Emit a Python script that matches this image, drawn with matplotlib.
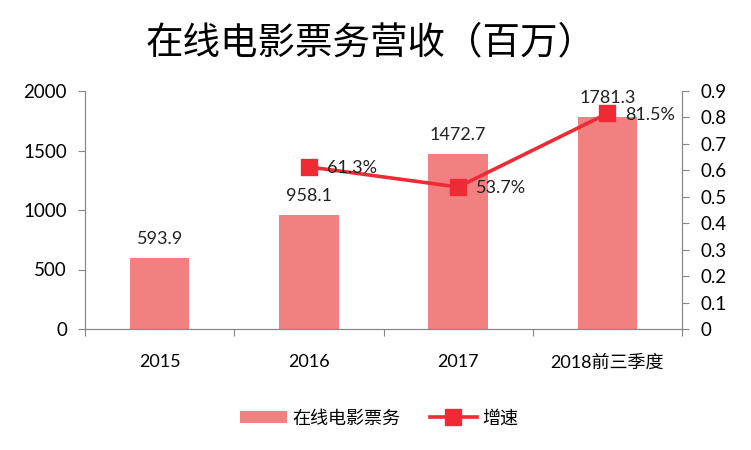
import matplotlib.pyplot as plt

plt.rcParams['font.family'] = ['Lato', 'Noto Sans CJK SC', 'DejaVu Sans']

# data
years = ["2015", "2016", "2017", "2018前三季度"]
revenue = [593.9, 958.1, 1472.7, 1781.3]
growth_years = [1, 2, 3]
growth = [0.613, 0.537, 0.815]

bar_color = '#F28080'
line_color = '#EE2A34'
axis_color = '#888888'

fig = plt.figure(figsize=(7.51, 4.5), dpi=100)
ax = fig.add_axes([85 / 751, 1 - 329 / 450, (682 - 85) / 751, (329 - 91) / 450])
ax2 = ax.twinx()

x = list(range(len(years)))
bars = ax.bar(x, revenue, width=0.4, color=bar_color, label='在线电影票务', zorder=2)
for xi, v in zip(x, revenue):
    ax.annotate(f'{v:.1f}', (xi, v), xytext=(0, 8), textcoords='offset points',
                ha='center', va='bottom', fontsize=13, color='#222222')

ax.set_xlim(-0.5, len(years) - 0.5)
ax.set_ylim(0, 2000)
ax.set_yticks([0, 500, 1000, 1500, 2000])
ax.set_xticks([i + 0.5 for i in range(-1, len(years))], minor=False)
ax.set_xticklabels([])
ax.set_xticks(x, minor=True)
ax.set_xticklabels(years, minor=True)
ax.tick_params(axis='x', which='major', length=5, color=axis_color)
ax.tick_params(axis='x', which='minor', length=0, pad=18, labelsize=13)
ax.tick_params(axis='y', length=5, color=axis_color, labelsize=13.5, pad=8)

line, = ax2.plot(growth_years, growth, color=line_color, lw=2.6, marker='s',
                 markersize=11, label='增速', zorder=3)
for xi, g in zip(growth_years, growth):
    ax2.annotate(f'{g * 100:.1f}%', (xi, g), xytext=(13, -1), textcoords='offset points',
                 ha='left', va='center', fontsize=13, color='#222222')
ax2.set_ylim(0, 0.9)
ax2.set_yticks([i / 10 for i in range(10)])
ax2.set_yticklabels(['0'] + [f'{i / 10:.1f}' for i in range(1, 10)])
ax2.tick_params(axis='y', length=5, color=axis_color, labelsize=13.5, pad=8)

for a in (ax, ax2):
    a.spines['top'].set_visible(False)
    for s in ('left', 'right', 'bottom'):
        a.spines[s].set_color(axis_color)

fig.text(0.493, 1 - 42 / 450, '在线电影票务营收（百万）', fontsize=27,
         ha='center', va='center')

fig.legend(handles=[bars, line], loc='center', bbox_to_anchor=(0.505, 0.071), ncol=2,
           frameon=False, fontsize=13, handlelength=2.6, columnspacing=1.6,
           handletextpad=0.3)

fig.savefig('out.png', dpi=100)
